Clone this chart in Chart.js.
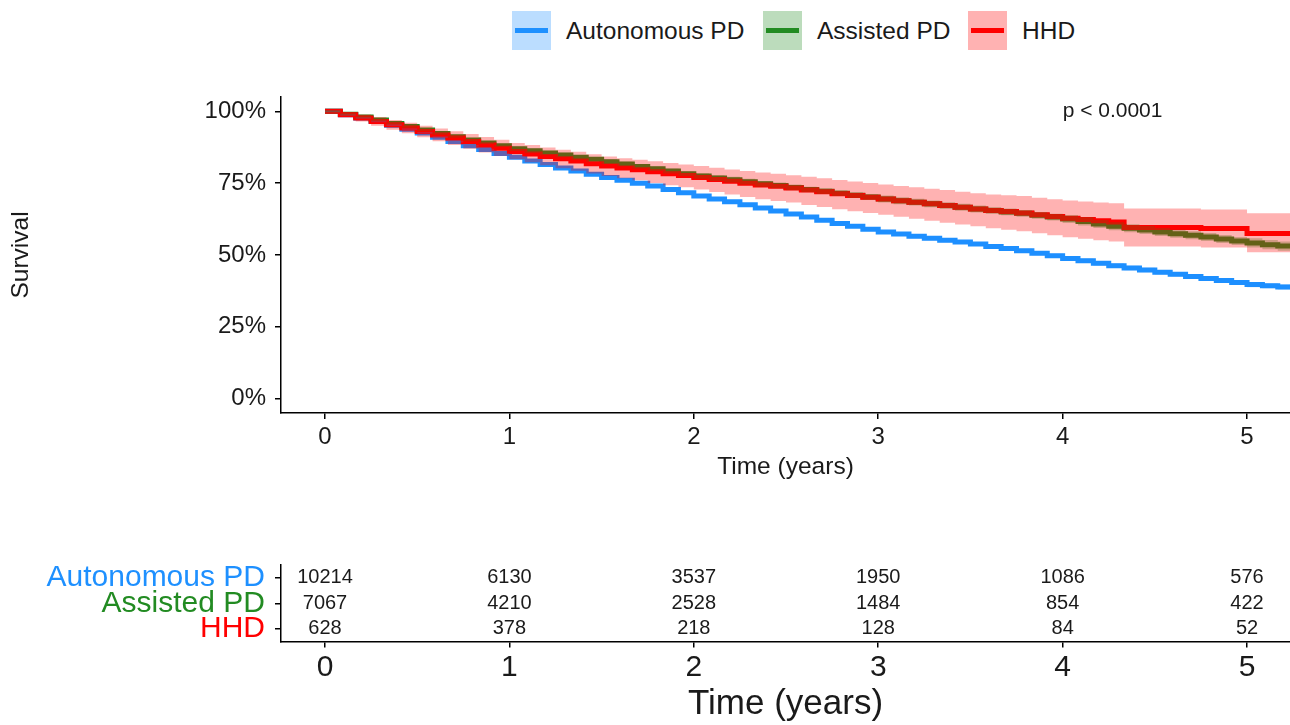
<!DOCTYPE html>
<html lang="en">
<head>
<meta charset="utf-8">
<title>Survival by dialysis modality</title>
<script src="https://cdn.jsdelivr.net/npm/chart.js@4.4.1/dist/chart.umd.min.js"></script>
<style>
  html, body { margin: 0; padding: 0; background: #fff; }
  body {
    width: 1290px; height: 725px; position: relative; overflow: hidden;
    font-family: "Liberation Sans", Arial, Helvetica, sans-serif;
  }
  #survivalChart { position: absolute; left: 0; top: 0; }
  #riskChart     { position: absolute; left: 0; top: 530px; }

  /* legend — fill box + line key, like the R legend */
  .legend-key   { position: absolute; top: 11px; width: 39px; height: 39px; }
  .legend-key i { position: absolute; left: 3px; right: 3px; top: 17px; height: 5px; }
  .legend-label {
    position: absolute; top: 11px; line-height: 39px;
    font-size: 24.5px; color: #1a1a1a; white-space: nowrap;
  }
</style>
</head>
<body>

<div class="legend-key" style="left:512px;background:rgba(30,144,255,0.3)"><i style="background:#1E90FF"></i></div>
<div class="legend-label" style="left:566px">Autonomous PD</div>
<div class="legend-key" style="left:763px;background:rgba(34,139,34,0.3)"><i style="background:#228B22"></i></div>
<div class="legend-label" style="left:817px">Assisted PD</div>
<div class="legend-key" style="left:968px;background:rgba(255,0,0,0.3)"><i style="background:#FF0000"></i></div>
<div class="legend-label" style="left:1022px">HHD</div>

<canvas id="survivalChart" width="1290" height="490"></canvas>
<canvas id="riskChart" width="1290" height="195"></canvas>

<script>
// =================================================================
// DATA — Kaplan-Meier estimates (%), one value
// per month from t = 0 (index k -> k / 12 years)
// =================================================================
const autonomousSurv = [
  100, 98.8, 97.7, 96.5, 95.2, 93.8, 92.5, 91, 89.5, 88, 86.7, 85.3,
  84, 82.7, 81.5, 80.3, 79.2, 78.1, 77, 76, 75, 74, 72.8, 71.7,
  70.5, 69.5, 68.5, 67.5, 66.4, 65.3, 64.3, 63.2, 62.1, 61, 60, 59,
  58, 57.3, 56.5, 55.8, 55.1, 54.5, 53.8, 53, 52.3, 51.5, 50.6, 49.7,
  48.8, 48, 47.1, 46.3, 45.5, 44.8, 44, 43.3, 42.5, 41.8, 41.1, 40.4,
  39.7, 39.3, 38.9, 38.5,
];

const assistedSurv = [
  100, 99, 98, 97, 95.8, 94.7, 93.5, 92.3, 91.2, 90, 89, 88,
  87, 86.3, 85.5, 84.8, 84, 83.3, 82.5, 81.7, 80.8, 80, 79.2, 78.3,
  77.5, 76.8, 76.2, 75.5, 74.8, 74.2, 73.5, 72.8, 72.2, 71.5, 70.8, 70.2,
  69.5, 68.9, 68.4, 67.8, 67.2, 66.6, 66, 65.5, 65, 64.5, 63.8, 63.2,
  62.5, 61.7, 60.8, 60, 59.3, 58.7, 58, 57.4, 56.9, 56.3, 55.6, 54.9,
  54.2, 53.6, 53.1, 52.5,
];

const hhdSurv = [
  100, 98.8, 97.7, 96.5, 95.3, 94.2, 93, 91.8, 90.7, 89.5, 88.3, 87.2,
  86, 85.2, 84.3, 83.5, 82.7, 81.8, 81, 80.3, 79.7, 79, 78.3, 77.7,
  77, 76.3, 75.7, 75, 74.4, 73.9, 73.3, 72.6, 72, 71.3, 70.7, 70.1,
  69.5, 68.9, 68.4, 67.8, 67.2, 66.6, 66, 65.5, 65.1, 64.6, 64, 63.4,
  62.8, 62.4, 61.9, 61.5, 59.6, 59.6, 59.6, 59.6, 59.6, 59.2, 59.2, 59.2,
  57.5, 57.5, 57.5, 57.5,
];

// 95% CI for HHD (wide band)
const hhdUpper = [
  100, 99.6, 98.9, 98, 97, 96, 95, 94, 93.1, 92.1, 91.1, 90.1,
  89, 88.3, 87.4, 86.6, 85.9, 85.1, 84.3, 83.7, 83.2, 82.6, 82, 81.5,
  81, 80.4, 79.8, 79.2, 78.7, 78.3, 77.8, 77.2, 76.7, 76.1, 75.6, 75.1,
  74.5, 74, 73.6, 73.1, 72.6, 72, 71.5, 71.1, 70.8, 70.5, 69.9, 69.4,
  69, 68.6, 68.3, 68, 66.2, 66.2, 66.2, 66.2, 66.2, 65.8, 65.8, 65.8,
  64.5, 64.5, 64.5, 64.5,
];

const hhdLower = [
  100, 98, 96.5, 95, 93.6, 92.4, 91, 89.6, 88.3, 87, 85.7, 84.5,
  83.3, 82.3, 81.2, 80.2, 79.3, 78.4, 77.5, 76.7, 76, 75.1, 74.3, 73.6,
  72.8, 71.9, 71.1, 70.2, 69.4, 68.8, 68.3, 67.4, 66.7, 65.9, 65.2, 64.6,
  64, 63.3, 62.6, 61.9, 61.2, 60.6, 60, 59.3, 58.8, 58.3, 57.6, 56.9,
  56.2, 55.7, 55.1, 54.7, 53, 53, 53, 53, 53, 52.6, 52.6, 52.6,
  51, 51, 51, 51,
];

// narrow CIs of the large groups: half-width (%) per year of follow-up
const autonomousCiHalf = [0.3, 0.5, 0.6, 0.7, 0.8, 0.9];
const assistedCiHalf   = [0.4, 0.8, 1.0, 1.2, 1.4, 1.6];

// Number at risk table
const riskYears        = [0, 1, 2, 3, 4, 5];
const riskGroups       = ["Autonomous PD", "Assisted PD", "HHD"];
const autonomousAtRisk = [10214, 6130, 3537, 1950, 1086, 576];
const assistedAtRisk   = [7067, 4210, 2528, 1484, 854, 422];
const hhdAtRisk        = [628, 378, 218, 128, 84, 52];

// Axis ticks
const timeTicks     = [0, 1, 2, 3, 4, 5];
const survivalTicks = [0, 25, 50, 75, 100];
const pValueText    = "p < 0.0001";

// =================================================================
// STYLE
// =================================================================
const COLORS = {
  autonomous: "#1E90FF",
  assisted:   "#228B22",
  hhd:        "#FF0000",
};
const BAND_ALPHA = 0.3;
const FONT       = "'Liberation Sans', Arial, Helvetica, sans-serif";
const INK        = "#1a1a1a";
const X_RANGE    = { min: -0.2386, max: 5.233 };

const rgba = (hex, a) => {
  const n = parseInt(hex.slice(1), 16);
  return `rgba(${(n >> 16) & 255},${(n >> 8) & 255},${n & 255},${a})`;
};

// =================================================================
// HELPERS
// =================================================================
const monthTimes = autonomousSurv.map((_, k) => k / 12);
const toPoints   = (values) => values.map((v, k) => ({ x: monthTimes[k], y: v }));
const ciFrom     = (values, half, sign) =>
  values.map((v, k) => ({ x: monthTimes[k], y: v + sign * half[Math.min(Math.floor(monthTimes[k]), half.length - 1)] }));

// Plain survival step line
const stepLine = (label, data, color, order) => ({
  label, data, order,
  borderColor: color, borderWidth: 5,
  stepped: "before", pointRadius: 0, fill: false,
});

// Invisible boundary of a ribbon
const bandEdge = (data, order) => ({
  data, order,
  borderColor: "transparent", borderWidth: 0,
  stepped: "before", pointRadius: 0, fill: false,
});

// Upper edge that fills down to its lower edge
const bandFill = (data, target, color, order) => ({
  data, order,
  borderColor: "transparent", borderWidth: 0,
  stepped: "before", pointRadius: 0,
  fill: target, backgroundColor: rgba(color, BAND_ALPHA),
});

// Shared classic-theme axis look
const axisLook = (fontSize, pad) => ({
  border: { display: true, color: "#000", width: 1.5 },
  grid:   { display: true, drawOnChartArea: false, drawTicks: true, tickLength: 6, color: "#000", lineWidth: 1.5 },
  ticks:  { color: INK, font: { family: FONT, size: fontSize }, padding: pad, autoSkip: false },
});

// Fixed-height x axis, no side padding for edge labels
// (the plot runs right up to the canvas edge, like the cropped original)
const fixXHeight = (h) => (s) => {
  s.height = h;
  s.paddingLeft = 0;
  s.paddingRight = 0;
};

// =================================================================
// PLUGINS — p-value annotation and at-risk numbers
// =================================================================
const pValuePlugin = {
  id: "pValue",
  afterDatasetsDraw(chart) {
    const { ctx, scales: { x, y } } = chart;
    ctx.save();
    ctx.font = `21px ${FONT}`;
    ctx.fillStyle = INK;
    ctx.textAlign = "left";
    ctx.textBaseline = "middle";
    ctx.fillText(pValueText, x.getPixelForValue(4.0), y.getPixelForValue(100));
    ctx.restore();
  },
};

const riskNumbersPlugin = {
  id: "riskNumbers",
  afterDraw(chart) {
    const { ctx, scales: { x, y } } = chart;
    const rows = [autonomousAtRisk, assistedAtRisk, hhdAtRisk];
    ctx.save();
    ctx.font = `20px ${FONT}`;
    ctx.fillStyle = INK;
    ctx.textAlign = "center";
    ctx.textBaseline = "middle";
    rows.forEach((row, r) => {
      row.forEach((n, i) => {
        ctx.fillText(String(n), x.getPixelForValue(riskYears[i]), y.getPixelForValue(r));
      });
    });
    ctx.restore();
  },
};

// =================================================================
// SURVIVAL CURVES
// =================================================================
new Chart(document.getElementById("survivalChart"), {
  type: "line",
  data: {
    datasets: [
      // lines first, ribbons drawn on top (ggsurvplot layer order)
      stepLine("Autonomous PD", toPoints(autonomousSurv), COLORS.autonomous, 9),
      stepLine("Assisted PD",   toPoints(assistedSurv),   COLORS.assisted,   8),
      stepLine("HHD",           toPoints(hhdSurv),        COLORS.hhd,        7),
      bandEdge(ciFrom(autonomousSurv, autonomousCiHalf, -1), 6),
      bandFill(ciFrom(autonomousSurv, autonomousCiHalf, +1), 3, COLORS.autonomous, 5),
      bandEdge(ciFrom(assistedSurv, assistedCiHalf, -1), 4),
      bandFill(ciFrom(assistedSurv, assistedCiHalf, +1), 5, COLORS.assisted, 3),
      bandEdge(toPoints(hhdLower), 2),
      bandFill(toPoints(hhdUpper), 7, COLORS.hhd, 1),
    ],
  },
  options: {
    responsive: false,
    animation: false,
    events: [],
    layout: { autoPadding: false, padding: { top: 97, left: 0, right: 0, bottom: 0 } },
    plugins: { legend: { display: false }, tooltip: { enabled: false } },
    scales: {
      x: {
        type: "linear",
        ...X_RANGE,
        ...axisLook(24, 4),
        afterBuildTicks: (s) => { s.ticks = timeTicks.map((v) => ({ value: v })); },
        afterFit: fixXHeight(77),
        title: {
          display: true, text: "Time (years)", color: INK,
          font: { family: FONT, size: 24.5 }, padding: { top: 0, bottom: 8 },
        },
      },
      y: {
        type: "linear",
        min: -5, max: 105,
        ...axisLook(24, 9),
        afterBuildTicks: (s) => { s.ticks = survivalTicks.map((v) => ({ value: v })); },
        afterFit: (s) => { s.width = 281; },
        title: {
          display: true, text: "Survival", color: INK,
          font: { family: FONT, size: 24.5 }, padding: { top: 7, bottom: 0 },
        },
      },
    },
  },
  plugins: [pValuePlugin],
});

// Tick labels need the "%" suffix
Chart.getChart("survivalChart").options.scales.y.ticks.callback = (v) => `${v}%`;
Chart.getChart("survivalChart").update("none");

// =================================================================
// NUMBER AT RISK TABLE
// =================================================================
new Chart(document.getElementById("riskChart"), {
  type: "line",
  data: { labels: riskGroups, datasets: [] },
  options: {
    responsive: false,
    animation: false,
    events: [],
    layout: { autoPadding: false, padding: { top: 35, left: 0, right: 0, bottom: 0 } },
    plugins: { legend: { display: false }, tooltip: { enabled: false } },
    scales: {
      x: {
        type: "linear",
        ...X_RANGE,
        ...axisLook(30, 2),
        afterBuildTicks: (s) => { s.ticks = timeTicks.map((v) => ({ value: v })); },
        afterFit: fixXHeight(83.5),
        title: {
          display: true, text: "Time (years)", color: INK,
          font: { family: FONT, size: 35 }, padding: { top: 0, bottom: 0 },
        },
      },
      y: {
        type: "category",
        labels: riskGroups,
        offset: true,
        ...axisLook(30, 10),
        grid: { display: true, offset: false, drawOnChartArea: false, drawTicks: true, tickLength: 6, color: "#000", lineWidth: 1.5 },
        ticks: {
          font: { family: FONT, size: 30 }, padding: 10, autoSkip: false,
          color: (c) => [COLORS.autonomous, COLORS.assisted, COLORS.hhd][c.index],
        },
        afterFit: (s) => { s.width = 281; },
      },
    },
  },
  plugins: [riskNumbersPlugin],
});
</script>
</body>
</html>
